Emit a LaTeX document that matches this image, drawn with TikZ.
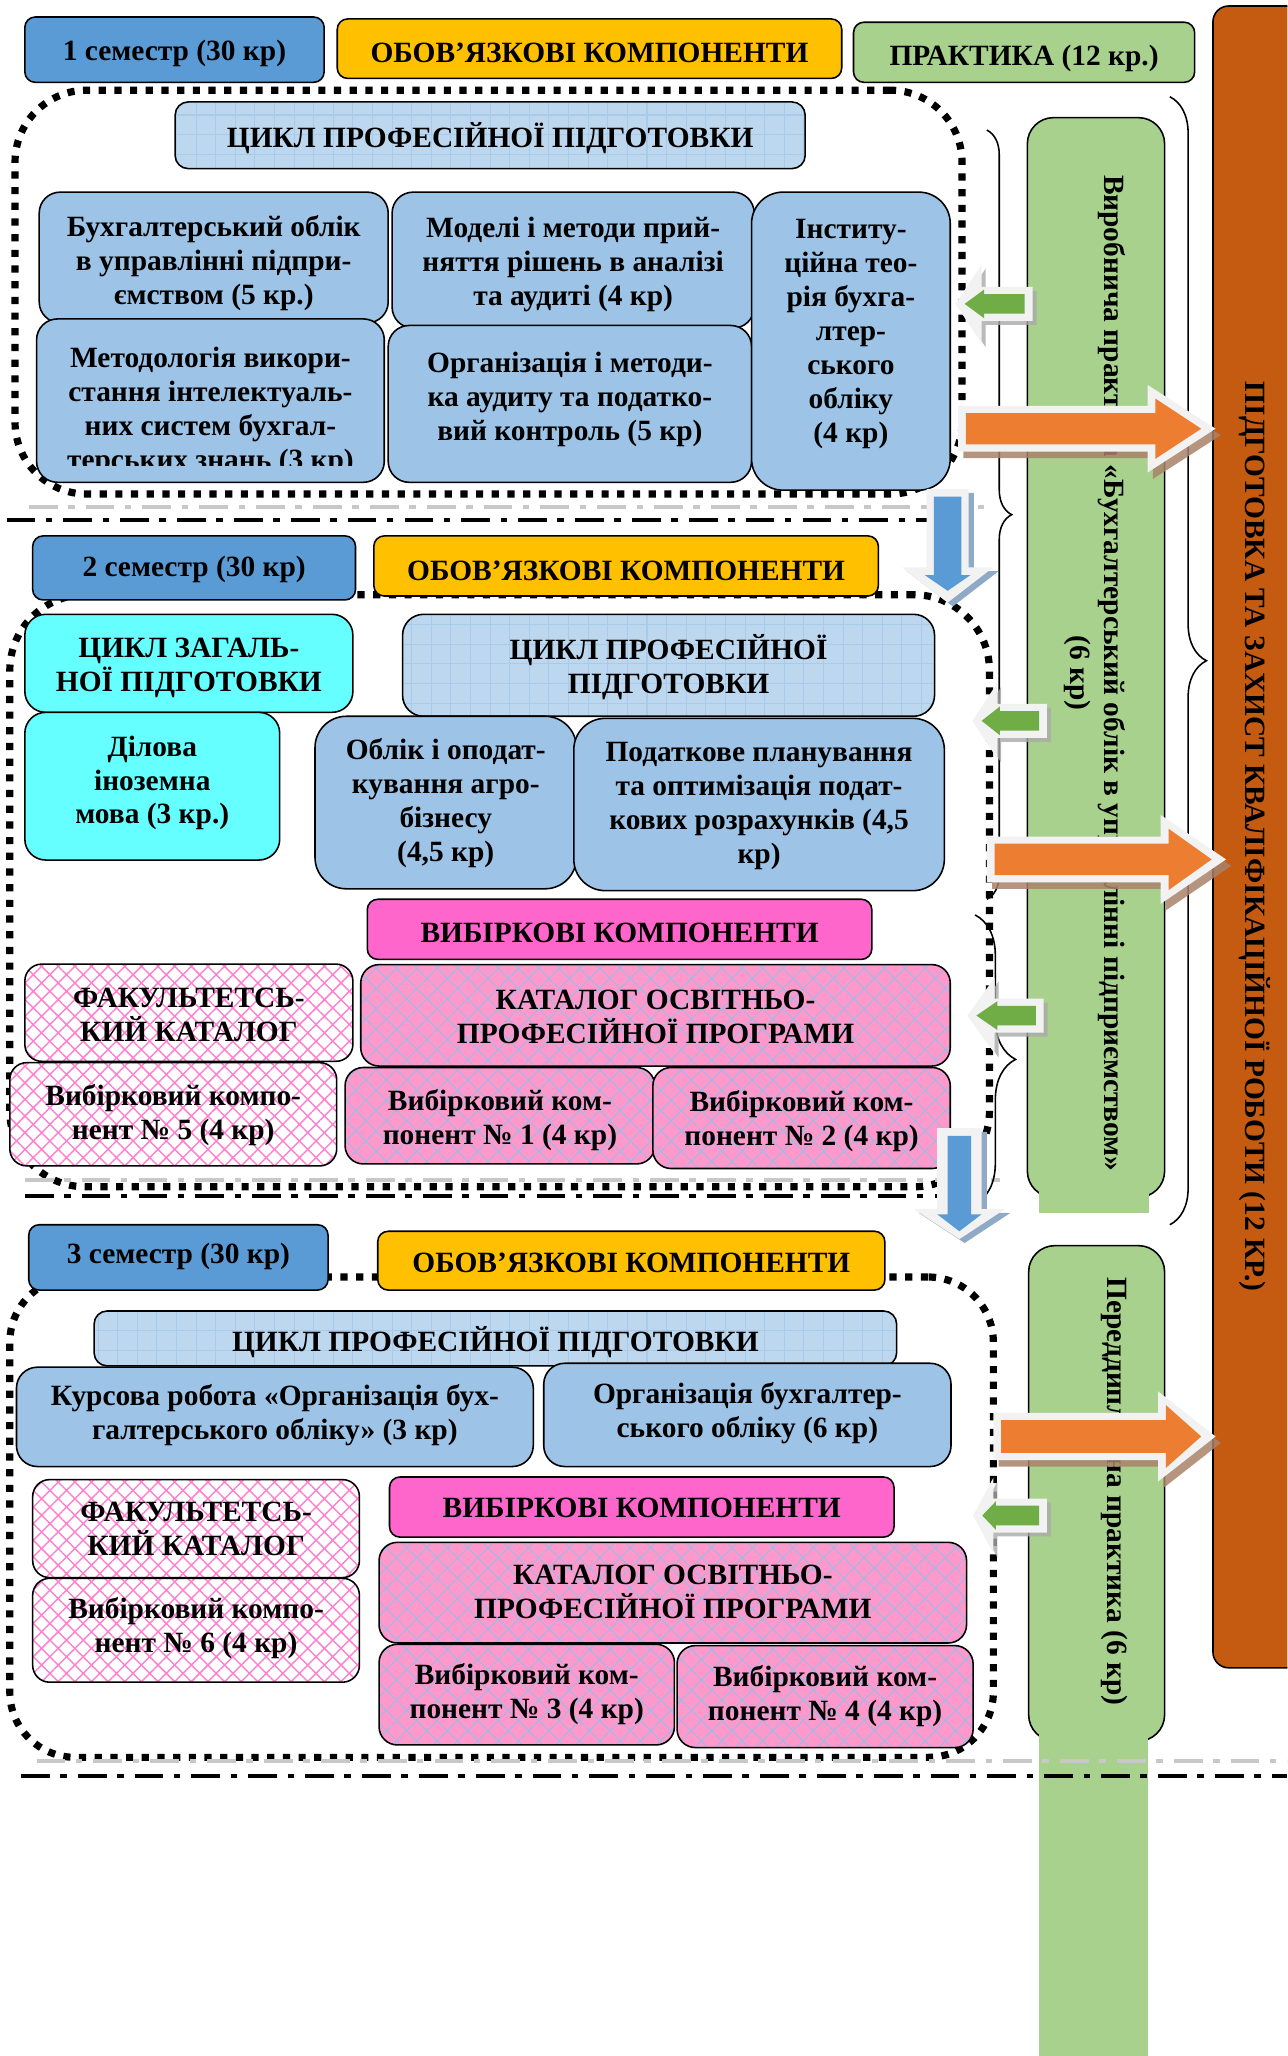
\documentclass[tikz,border=0pt]{standalone}
\usepackage{fontspec}
\setmainfont{Liberation Serif}
\usetikzlibrary{patterns.meta,decorations.pathreplacing}
\definecolor{semblue}{HTML}{5B9BD5}
\definecolor{oblyel}{HTML}{FFC000}
\definecolor{pracgreen}{HTML}{A9D18E}
\definecolor{rustbar}{HTML}{C55A11}
\definecolor{arrorange}{HTML}{ED7D31}
\definecolor{arrgreen}{HTML}{70AD47}
\definecolor{boxblue}{HTML}{9DC3E6}
\definecolor{gridblue}{HTML}{BDD7EE}
\definecolor{gridln}{HTML}{A9CBEB}
\definecolor{cyanbox}{HTML}{66FFFF}
\definecolor{vibpink}{HTML}{FF66CC}
\definecolor{catpink}{HTML}{FF99CC}
\definecolor{hatchlav}{HTML}{A9B6E2}
\definecolor{fakpink}{HTML}{FF80CF}
\definecolor{bevel}{HTML}{F2F2F2}
\definecolor{sepgray}{HTML}{C8C8C8}
\definecolor{oshad}{HTML}{A8826A}
\definecolor{bshad}{HTML}{8FAAC6}
\definecolor{gshad}{HTML}{A9A9A9}
% box with separate text node: name, style, x1, y1, x2, y2, dy, text
\newcommand{\bx}[8]{%
  \node[#2, inner sep=0pt, minimum width={#5-#3}, minimum height={#6-#4}] (#1) at ({(#3+#5)/2},{(#4+#6)/2}) {};
  \node[txt] (#1t) at ({(#3+#5)/2},{(#4+#6)/2+(#7)+3.5}) {#8};}
% plain shape node: name, style, x1, y1, x2, y2
\newcommand{\rg}[6]{%
  \node[#2, inner sep=0pt, minimum width={#5-#3}, minimum height={#6-#4}] (#1) at ({(#3+#5)/2},{(#4+#6)/2}) {};}
% horizontal block arrow: tail x, head base x, tip x, y, shaft half, head half, style
\newcommand{\harr}[7]{\fill[#7] (#1,{#4-#5}) -- (#2,{#4-#5}) -- (#2,{#4-#6}) -- (#3,#4) -- (#2,{#4+#6}) -- (#2,{#4+#5}) -- (#1,{#4+#5}) -- cycle;}
% vertical block arrow: cx, top y, head base y, tip y, shaft half, head half, style
\newcommand{\varr}[7]{\fill[#7] ({#1-#5},#2) -- ({#1-#5},#3) -- ({#1-#6},#3) -- (#1,#4) -- ({#1+#6},#3) -- ({#1+#5},#3) -- ({#1+#5},#2) -- cycle;}
\begin{document}
\begin{tikzpicture}[x=1pt,y=-1pt,
  every node/.style={font=\bfseries\fontsize{22.5}{26}\selectfont},
  txt/.style={align=center, inner sep=0pt},
  base/.style={draw=black, line width=1.2pt},
  hdr/.style={base, rounded corners=8pt},
  bbox/.style={base, fill=boxblue, rounded corners=16pt},
  gbox/.style={base, rounded corners=10pt, preaction={fill=gridblue}, pattern={Hatch[angle=0,distance=15pt,line width=0.8pt]}, pattern color=gridln},
  cbox/.style={base, fill=cyanbox, rounded corners=16pt},
  vbox/.style={base, fill=vibpink, rounded corners=8pt},
  kbox/.style={base, rounded corners=14pt, preaction={fill=catpink}, pattern={Hatch[angle=45,distance=11pt,line width=0.9pt]}, pattern color=hatchlav},
  fbox/.style={base, rounded corners=13pt, preaction={fill=white}, pattern={Hatch[angle=45,distance=9pt,line width=1.1pt]}, pattern color=fakpink},
  dotreg/.style={draw=black, line width=5.5pt, dash pattern=on 5.5pt off 6.5pt, rounded corners=#1},
  blkdd/.style={draw=black, line width=3pt, dash pattern=on 22pt off 8pt on 5pt off 8.5pt},
  grydd/.style={draw=sepgray, line width=3pt, dash pattern=on 22pt off 8pt on 5pt off 8.5pt},
  barbox/.style={base, fill=pracgreen, rounded corners=20pt},
  brc/.style={decorate, decoration={brace, amplitude=#1, aspect=0.5}, draw=black, line width=1.2pt},
  osh/.style={fill=oshad, opacity=0.85, xshift=4pt, yshift=-5pt},
  gsh/.style={fill=gshad, opacity=0.8, xshift=3pt, yshift=-3pt},
  bsh/.style={fill=bshad, xshift=4pt, yshift=-3pt},
]
\useasboundingbox (0,0) rectangle (985,1573);
\clip (0,0) rectangle (985,1573);

% ---------- right side: final work bar and practice bars ----------
\rg{obar}{base, fill=rustbar, rounded corners=12pt}{928}{4.6}{1010}{1276}
\node[txt, rotate=-90] (obart) at (960,640) {ПІДГОТОВКА ТА ЗАХИСТ КВАЛІФІКАЦІЙНОЇ РОБОТИ (12 КР.)};

\rg{bar1}{barbox}{786}{90}{891}{916}
\fill[pracgreen] (795,905) rectangle (879,928);
\node[txt, rotate=-90] (bar1t) at (838,515) {Виробнича практика «Бухгалтерський облік в управлінні підприємством»\\(6 кр)};

\rg{bar2}{barbox}{787}{953}{891}{1332}
\fill[pracgreen] (795,1320) rectangle (878,1580);
\node[txt, rotate=-90] (bar2t) at (853,1141) {Переддипломна практика (6 кр)};

% ---------- dotted regions ----------
\rg{reg1}{dotreg=55pt}{11.5}{69}{736}{378}
\rg{reg2}{dotreg=58pt}{7.5}{455}{757}{908}
\rg{reg3}{dotreg=50pt}{7.5}{977}{760}{1344.5}

% ---------- separator lines ----------
\draw[grydd] (22,388) -- (755,388);
\draw[blkdd] (5,398) -- (745,398);
\draw[grydd] (19,903) -- (765,903);
\draw[blkdd] (19,915) -- (745,915);
\draw[grydd] (28,1347) -- (985,1347);
\draw[blkdd] (16,1359) -- (985,1359);

% ---------- semester 1 ----------
\bx{sem1}{hdr, fill=semblue}{19}{13}{248}{63}{-1}{1 семестр (30 кр)}
\bx{obl1}{hdr, fill=oblyel}{258}{14.5}{644}{60}{0}{ОБОВ’ЯЗКОВІ КОМПОНЕНТИ}
\bx{prak}{hdr, fill=pracgreen}{653}{17}{914}{63}{1}{ПРАКТИКА (12 кр.)}

\bx{cyc1}{gbox}{134}{78}{616}{129}{-1}{ЦИКЛ ПРОФЕСІЙНОЇ ПІДГОТОВКИ}
\bx{buh}{bbox}{30}{147}{297}{247}{1}{Бухгалтерський облік\\в управлінні підпри-\\ємством (5 кр.)}
\bx{model}{bbox}{300}{147}{577}{251}{0}{Моделі і методи прий-\\няття рішень в аналізі\\та аудиті (4 кр)}
\rg{metod}{bbox}{28}{244}{294}{369}
\begin{scope}
  \clip (28,244) rectangle (294,356);
  \node[txt] (metodt) at (161,314.5) {Методологія викори-\\стання інтелектуаль-\\них систем бухгал-\\терських знань (3 кр)};
\end{scope}
\bx{orgaud}{bbox}{297}{249}{575}{369}{-7}{Організація і методи-\\ка аудиту та податко-\\вий контроль (5 кр)}
\bx{inst}{bbox, rounded corners=24pt}{575}{147}{727}{375}{-9}{Інститу-\\ційна тео-\\рія бухга-\\лтер-\\ського\\обліку\\(4 кр)}

% ---------- semester 2 ----------
\bx{sem2}{hdr, fill=semblue}{25}{410}{272}{459}{-2}{2 семестр (30 кр)}
\bx{obl2}{hdr, fill=oblyel}{286}{410}{672}{456}{0}{ОБОВ’ЯЗКОВІ КОМПОНЕНТИ}
\bx{gen2}{cbox}{19}{470}{270}{545}{0}{ЦИКЛ ЗАГАЛЬ-\\НОЇ ПІДГОТОВКИ}
\bx{cyc2}{gbox, rounded corners=16pt}{308}{470}{715}{548}{-2}{ЦИКЛ ПРОФЕСІЙНОЇ\\ПІДГОТОВКИ}
\bx{dilova}{cbox}{19}{545}{214}{658}{-6}{Ділова\\іноземна\\мова (3 кр.)}
\bx{oblik}{bbox, rounded corners=24pt}{241}{548}{441}{680}{-3}{Облік і оподат-\\кування агро-\\бізнесу\\(4,5 кр)}
\bx{podat}{bbox, rounded corners=24pt}{439}{549.6}{722.5}{681.4}{-2}{Податкове планування\\та оптимізація подат-\\кових розрахунків (4,5\\кр)}
\bx{vib2}{vbox}{281}{688}{667}{734}{-1}{ВИБІРКОВІ КОМПОНЕНТИ}
\bx{fak2}{fbox}{19}{737.6}{270}{812}{-2}{ФАКУЛЬТЕТСЬ-\\КИЙ КАТАЛОГ}
\bx{kat2}{kbox}{276}{738}{727}{815.6}{-2}{КАТАЛОГ ОСВІТНЬО-\\ПРОФЕСІЙНОЇ ПРОГРАМИ}
\bx{v5}{fbox}{7.5}{813}{257.6}{892}{-3}{Вибірковий компо-\\нент № 5 (4 кр)}
\bx{v1}{kbox}{264}{816.7}{501}{890.5}{0}{Вибірковий ком-\\понент № 1 (4 кр)}
\bx{v2}{kbox}{499.5}{816.7}{727}{894}{-1}{Вибірковий ком-\\понент № 2 (4 кр)}

% ---------- semester 3 ----------
\bx{sem3}{hdr, fill=semblue}{22}{937}{251}{987}{-4}{3 семестр (30 кр)}
\bx{obl3}{hdr, fill=oblyel}{289}{942}{677}{987}{-2}{ОБОВ’ЯЗКОВІ КОМПОНЕНТИ}
\bx{cyc3}{gbox}{72}{1003}{686}{1045}{-1}{ЦИКЛ ПРОФЕСІЙНОЇ ПІДГОТОВКИ}
\bx{kurs}{bbox}{12.6}{1046}{408}{1122}{-5}{Курсова робота «Організація бух-\\галтерського обліку» (3 кр)}
\bx{orgb}{bbox}{416}{1043}{727.6}{1122}{-5}{Організація бухгалтер-\\ського обліку (6 кр)}
\bx{fak3}{fbox}{25}{1132}{275}{1207}{-3}{ФАКУЛЬТЕТСЬ-\\КИЙ КАТАЛОГ}
\bx{vib3}{vbox}{298}{1130}{684}{1176}{-3}{ВИБІРКОВІ КОМПОНЕНТИ}
\bx{kat3}{kbox}{290}{1180}{739.5}{1257}{-4}{КАТАЛОГ ОСВІТНЬО-\\ПРОФЕСІЙНОЇ ПРОГРАМИ}
\bx{v6}{fbox}{25}{1207.5}{275}{1287}{-5}{Вибірковий компо-\\нент № 6 (4 кр)}
\bx{v3}{kbox}{290}{1258}{516}{1335}{-4}{Вибірковий ком-\\понент № 3 (4 кр)}
\bx{v4}{kbox}{518}{1259}{744.5}{1337}{-4}{Вибірковий ком-\\понент № 4 (4 кр)}

% ---------- braces ----------
\draw[brc=19pt] (755,99.5) -- (755,688);
\draw[brc=31pt] (746,700) -- (746,921);
\draw[brc=28pt] (895,74) -- (895,937);

% ---------- orange arrows (to final work) ----------
\harr{733}{878}{930}{328}{17.5}{33.5}{osh}
\harr{733}{878}{930}{328}{17.5}{33.5}{bevel}
\harr{739}{884}{919}{328}{12}{23}{arrorange}
\harr{755}{888}{938}{657.5}{17.5}{34}{osh}
\harr{755}{888}{938}{657.5}{17.5}{34}{bevel}
\harr{761}{894}{927}{657.5}{12}{23.5}{arrorange}
\harr{760}{886}{930}{1099}{18}{34.5}{osh}
\harr{760}{886}{930}{1099}{18}{34.5}{bevel}
\harr{766}{892}{919}{1099}{12.5}{24}{arrorange}

% ---------- green arrows (from practice) ----------
\harr{790}{751}{731}{232.5}{13}{30}{gsh}
\harr{790}{751}{731}{232.5}{13}{30}{bevel}
\harr{784}{753}{738}{232.5}{7.5}{11}{arrgreen}
\harr{801}{763}{744}{551.5}{13}{29}{gsh}
\harr{801}{763}{744}{551.5}{13}{29}{bevel}
\harr{795}{765}{751}{551.5}{7.5}{11}{arrgreen}
\harr{798.5}{761}{740}{777}{13}{29}{gsh}
\harr{798.5}{761}{740}{777}{13}{29}{bevel}
\harr{792.5}{763}{747}{777}{7.5}{11}{arrgreen}
\harr{801}{760}{744.5}{1159.5}{13}{29}{gsh}
\harr{801}{760}{744.5}{1159.5}{13}{29}{bevel}
\harr{795}{762}{751.5}{1159.5}{7.5}{11}{arrgreen}

% ---------- blue arrows (between semesters) ----------
\varr{725}{374}{434}{461}{16}{35}{bsh}
\varr{725}{374}{434}{461}{16}{35}{bevel}
\varr{725}{380}{440}{452}{10.5}{17.5}{semblue}
\varr{734}{863}{925}{948}{17}{35}{bsh}
\varr{734}{863}{925}{948}{17}{35}{bevel}
\varr{734}{869}{929}{942}{9}{17}{semblue}
\end{tikzpicture}
\end{document}
